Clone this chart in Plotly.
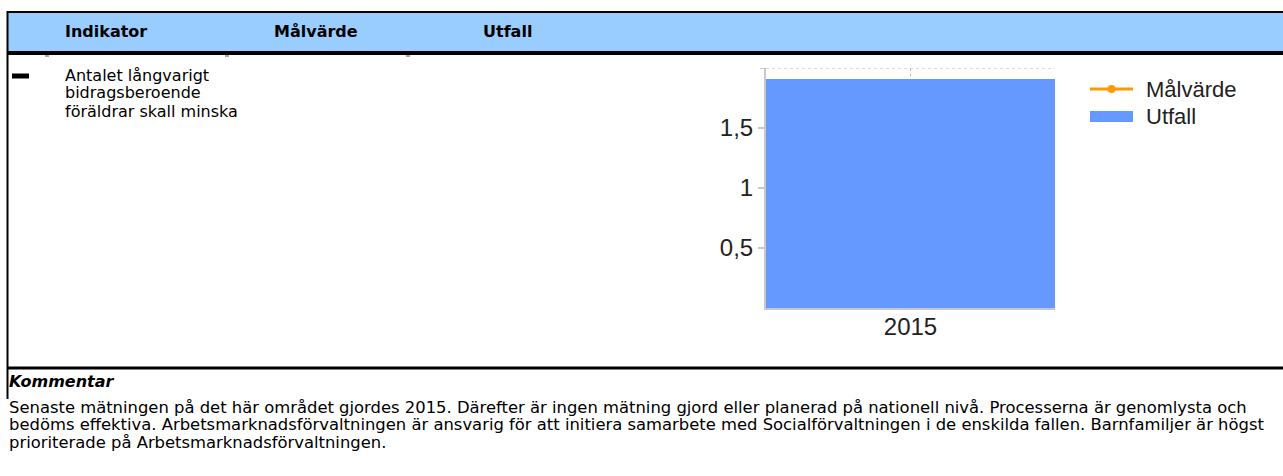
import plotly.graph_objects as go

# Data
years = ["2015"]
utfall = [1.91]
malvarde = [None]
tick_vals = [0.5, 1, 1.5]

header_cols = ["Indikator", "Målvärde", "Utfall"]
indicator_lines = ["Antalet långvarigt", "bidragsberoende", "föräldrar skall minska"]
comment_title = "Kommentar"
comment_lines = [
    "Senaste mätningen på det här området gjordes 2015. Därefter är ingen mätning gjord eller planerad på nationell nivå. Processerna är genomlysta och",
    "bedöms effektiva. Arbetsmarknadsförvaltningen är ansvarig för att initiera samarbete med Socialförvaltningen i de enskilda fallen. Barnfamiljer är högst",
    "prioriterade på Arbetsmarknadsförvaltningen.",
]

W, H = 1283, 476
def px(x):
    return x / W
def py(y):
    return 1 - y / H

TEXT_FONT = "DejaVu Sans"
CHART_FONT = "Liberation Sans"
BLUE = "#6699FF"
ORANGE = "#FF9900"
AXIS_GREY = "#C8C8C8"

fig = go.Figure()

fig.add_trace(go.Bar(
    x=years, y=utfall, name="Utfall", showlegend=False,
    marker=dict(color=BLUE, line=dict(width=0)),
))
fig.add_trace(go.Scatter(
    x=years, y=malvarde, name="Målvärde", mode="lines+markers", showlegend=False,
    line=dict(color=ORANGE, width=3), marker=dict(color=ORANGE, size=8),
))

shapes = []
# header band
shapes.append(dict(type="rect", xref="paper", yref="paper",
                   x0=px(7), x1=px(W), y0=py(53), y1=py(12),
                   fillcolor="#99CCFF", line=dict(width=0), layer="below"))
shapes.append(dict(type="line", xref="paper", yref="paper",
                   x0=px(7), x1=px(W), y0=py(12), y1=py(12),
                   line=dict(color="black", width=2)))
shapes.append(dict(type="line", xref="paper", yref="paper",
                   x0=px(7), x1=px(W), y0=py(53), y1=py(53),
                   line=dict(color="black", width=4)))
# left border
shapes.append(dict(type="line", xref="paper", yref="paper",
                   x0=px(7.5), x1=px(7.5), y0=py(11), y1=py(399),
                   line=dict(color="black", width=2)))
# row separator
shapes.append(dict(type="line", xref="paper", yref="paper",
                   x0=px(7), x1=px(W), y0=py(368), y1=py(368),
                   line=dict(color="black", width=3)))
# small column marks under header
for cx in [47, 227, 408]:
    shapes.append(dict(type="line", xref="paper", yref="paper",
                       x0=px(cx - 2), x1=px(cx + 2), y0=py(56), y1=py(56),
                       line=dict(color="#555555", width=1)))
# indicator status dash
shapes.append(dict(type="line", xref="paper", yref="paper",
                   x0=px(12), x1=px(29), y0=py(76), y1=py(76),
                   line=dict(color="black", width=5)))
# chart top dotted gridline and tick
shapes.append(dict(type="line", xref="x domain", yref="y",
                   x0=0, x1=1, y0=2, y1=2,
                   line=dict(color="#BBBBBB", width=1, dash="dot")))
shapes.append(dict(type="line", xref="paper", yref="y",
                   x0=px(760), x1=px(766), y0=2, y1=2,
                   line=dict(color=AXIS_GREY, width=2)))
shapes.append(dict(type="line", xref="x domain", yref="y",
                   x0=0.5, x1=0.5, y0=2, y1=1.93,
                   line=dict(color="#BBBBBB", width=1, dash="dot")))
# legend keys
shapes.append(dict(type="line", xref="paper", yref="paper",
                   x0=px(1090), x1=px(1133), y0=py(89), y1=py(89),
                   line=dict(color=ORANGE, width=3)))
shapes.append(dict(type="circle", xref="paper", yref="paper",
                   x0=px(1107.5), x1=px(1115.5), y0=py(93), y1=py(85),
                   fillcolor=ORANGE, line=dict(width=0)))
shapes.append(dict(type="rect", xref="paper", yref="paper",
                   x0=px(1090), x1=px(1133), y0=py(122), y1=py(111),
                   fillcolor=BLUE, line=dict(width=0)))

annotations = []
for name, x in zip(header_cols, [63, 272, 481]):
    annotations.append(dict(text=f"<b>{name}</b>", x=px(x), y=py(32),
                            xref="paper", yref="paper", xanchor="left", yanchor="middle",
                            showarrow=False, font=dict(family=TEXT_FONT, size=16, color="black")))
for i, line in enumerate(indicator_lines):
    annotations.append(dict(text=line, x=px(63), y=py(75 + 18 * i),
                            xref="paper", yref="paper", xanchor="left", yanchor="middle",
                            showarrow=False, font=dict(family=TEXT_FONT, size=16, color="black")))
annotations.append(dict(text=f"<b><i>{comment_title}</i></b>", x=px(7), y=py(381),
                        xref="paper", yref="paper", xanchor="left", yanchor="middle",
                        showarrow=False, font=dict(family=TEXT_FONT, size=16, color="black")))
for i, line in enumerate(comment_lines):
    annotations.append(dict(text=line, x=px(7), y=py(407 + 17.5 * i),
                            xref="paper", yref="paper", xanchor="left", yanchor="middle",
                            showarrow=False, font=dict(family=TEXT_FONT, size=16.4, color="black")))
for name, y in [("Målvärde", 89), ("Utfall", 116)]:
    annotations.append(dict(text=name, x=px(1144), y=py(y),
                            xref="paper", yref="paper", xanchor="left", yanchor="middle",
                            showarrow=False, font=dict(family=CHART_FONT, size=22, color="#222222")))

fig.update_layout(
    width=W, height=H,
    margin=dict(l=0, r=0, t=0, b=0),
    paper_bgcolor="white", plot_bgcolor="white",
    separators=", ",
    bargap=0,
    showlegend=False,
    xaxis=dict(domain=[px(766), px(1055)], type="category",
               showline=True, linecolor=AXIS_GREY, linewidth=2,
               ticks="", ticklabelstandoff=-4,
               tickfont=dict(family=CHART_FONT, size=24, color="#222222"),
               showgrid=False, fixedrange=True),
    yaxis=dict(domain=[py(308), py(68)], range=[0, 2],
               tickvals=tick_vals, ticks="outside", ticklen=6, tickcolor=AXIS_GREY, tickwidth=2,
               ticklabelstandoff=0,
               showline=True, linecolor=AXIS_GREY, linewidth=2,
               tickfont=dict(family=CHART_FONT, size=24, color="#222222"),
               showgrid=False, zeroline=False, fixedrange=True),
    shapes=shapes,
    annotations=annotations,
)

fig.write_html("out.html", config={"displayModeBar": False},
               post_script="document.body.style.margin='0';document.body.style.overflow='hidden';")
